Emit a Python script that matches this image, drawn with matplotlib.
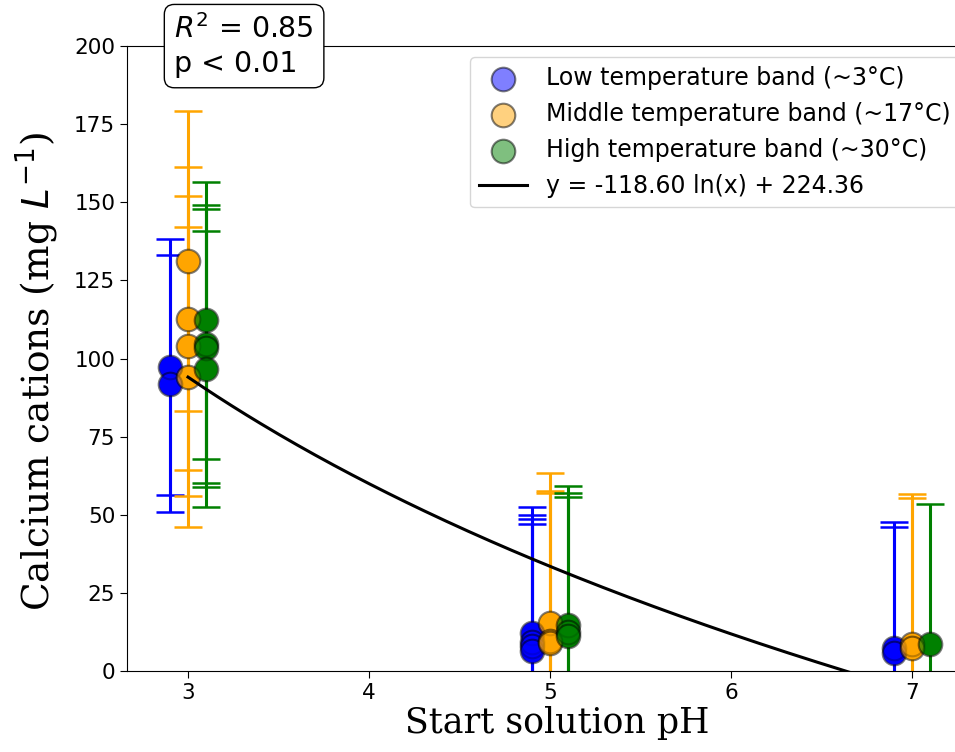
import numpy as np
import matplotlib
matplotlib.use('Agg')
import matplotlib.pyplot as plt

# Calcium cation concentrations (mg/L) per temperature band
low_x = [2.9, 2.9, 4.9, 4.9, 4.9, 4.9, 6.9, 6.9]
low_y = [97.4, 92.0, 12.1, 9.4, 8.0, 6.5, 7.3, 5.7]
low_err = [41.0, 41.0, 40.5, 40.5, 40.5, 40.5, 40.5, 40.5]

mid_x = [3.0, 3.0, 3.0, 3.0, 5.0, 5.0, 5.0, 7.0, 7.0]
mid_y = [131.2, 112.8, 104.0, 94.2, 15.5, 9.5, 9.0, 8.5, 7.5]
mid_err = [48.0, 48.5, 48.0, 48.0, 48.0, 48.0, 48.0, 48.0, 48.0]

high_x = [3.1, 3.1, 3.1, 3.1, 5.1, 5.1, 5.1, 7.1]
high_y = [112.2, 104.8, 103.4, 96.6, 14.7, 12.4, 11.1, 8.8]
high_err = [44.4, 44.5, 44.4, 44.2, 44.5, 44.5, 44.5, 44.5]

fit_a = -118.60
fit_b = 224.36
ph_ticks = [3, 4, 5, 6, 7]

fig = plt.figure(figsize=(9.55, 7.52), dpi=100)
ax = fig.add_axes([0.133, 0.1077, 0.9, 0.831])

series = [
    (low_x, low_y, low_err, 'blue', 'Low temperature band (~3°C)'),
    (mid_x, mid_y, mid_err, 'orange', 'Middle temperature band (~17°C)'),
    (high_x, high_y, high_err, 'green', 'High temperature band (~30°C)'),
]
for xs, ys, es, c, lab in series:
    ax.errorbar(xs, ys, yerr=es, fmt='o', color=c, ms=15, elinewidth=2.2,
                capsize=10, capthick=1.8, zorder=2)
    ax.scatter(xs, ys, s=17**2, color=c, alpha=0.5, edgecolor='k',
               linewidth=1.5, label=lab, zorder=3)

xf = np.linspace(3, 7, 200)
ax.plot(xf, fit_a * np.log(xf) + fit_b, color='k', lw=2.2,
        label='y = %.2f ln(x) + %.2f' % (fit_a, fit_b), zorder=4)

ax.set_xlim(2.663, 7.41)
ax.set_ylim(0, 200)
ax.set_xticks(ph_ticks)
ax.tick_params(labelsize=15.5, length=5)
ax.set_xlabel('Start solution pH', family='DejaVu Serif', fontsize=25, labelpad=2)
ax.set_ylabel('Calcium cations (mg $L^{-1}$)', family='DejaVu Serif', fontsize=27)
ax.yaxis.set_label_coords(-0.077, 0.48)

ax.text(0.055, 1.0, '$R^2$ = 0.85\np < 0.01', transform=ax.transAxes,
        fontsize=20.5, va='center', ha='left', linespacing=1.25,
        bbox=dict(boxstyle='round,pad=0.35', facecolor='white', edgecolor='black'))

ax.legend(loc='upper left', bbox_to_anchor=(470 / 955, 1 - 57 / 752),
          bbox_transform=fig.transFigure, fontsize=17, borderaxespad=0)

fig.savefig('out.png', dpi=100)
